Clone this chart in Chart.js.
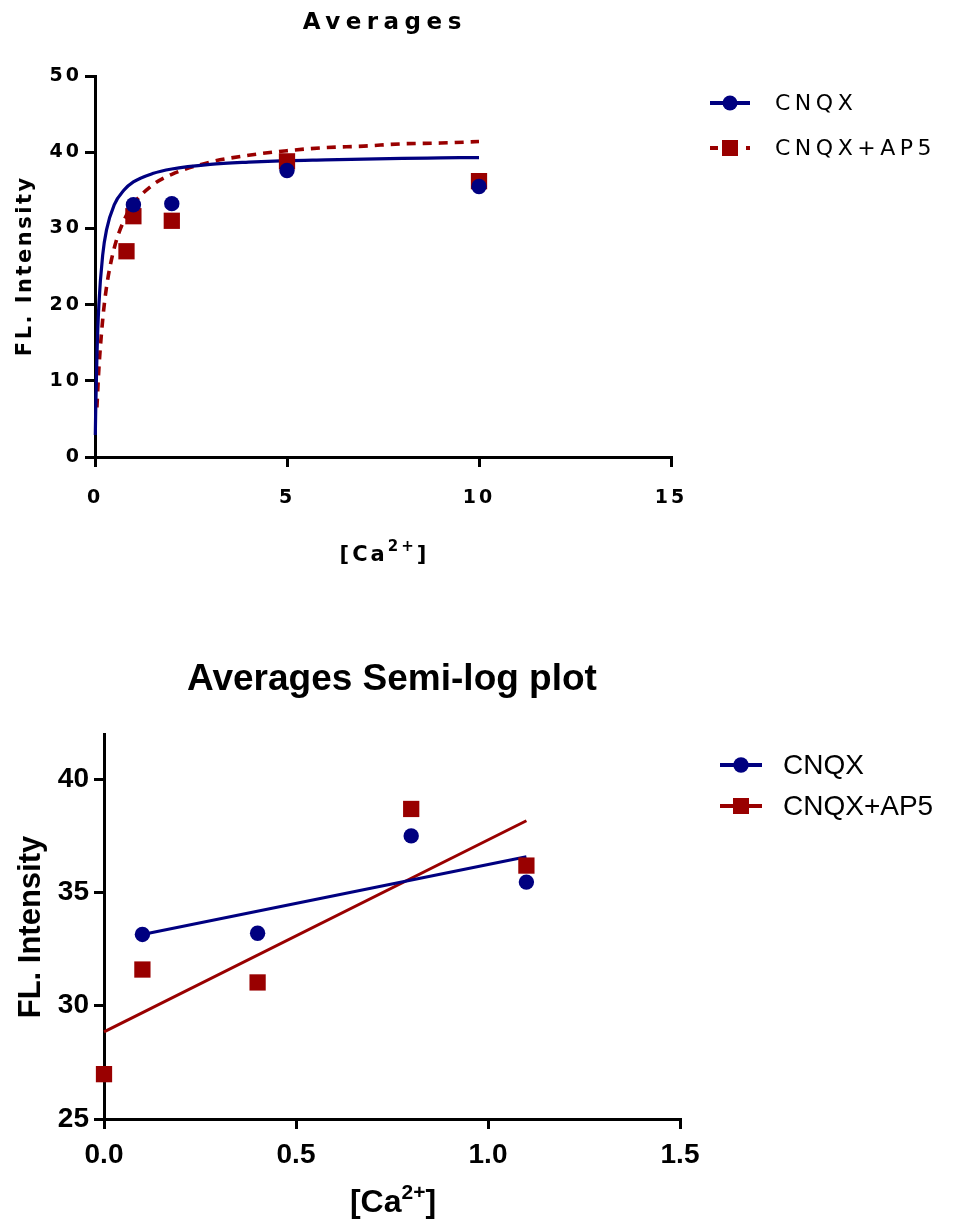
<!DOCTYPE html>
<html>
<head>
<meta charset="utf-8">
<script src="https://cdn.jsdelivr.net/npm/chart.js@4.4.1/dist/chart.umd.min.js"></script>
<style>
  html, body { margin: 0; padding: 0; background: #fff; }
  #wrap { position: relative; width: 953px; height: 1224px; }
  canvas { position: absolute; left: 0; }
  #topChart { top: 0; }
  #semiLogChart { top: 600px; }
</style>
</head>
<body>
<div id="wrap">
  <canvas id="topChart" width="953" height="600"></canvas>
  <canvas id="semiLogChart" width="953" height="624"></canvas>
</div>
<script>
// ---- data: averages ----
const seriesNames = ['CNQX', 'CNQX+AP5'];
const cnqxConc = [1, 2, 5, 10];
const cnqxAvg = [33.1, 33.25, 37.6, 35.5];
const ap5Conc = [0.82, 1, 2, 5, 10];
const ap5Avg = [27.0, 31.6, 31.0, 38.8, 36.2];

// fitted curves
const cnqxFitX = [0.008, 0.02, 0.05, 0.1, 0.2, 0.3, 0.5, 0.75, 1, 1.5, 2, 3, 4, 5, 6, 7, 8, 9, 10];
const cnqxFitY = [2.9, 6.6, 13.2, 19.9, 26.5, 29.8, 33.1, 35.0, 36.1, 37.2, 37.8, 38.4, 38.7, 38.9, 39.0, 39.1, 39.2, 39.25, 39.3];
const ap5FitX = [0.05, 0.1, 0.2, 0.3, 0.5, 0.75, 1, 1.5, 2, 3, 4, 5, 6, 7, 8, 9, 10];
const ap5FitY = [6.5, 11.5, 18.0, 22.3, 27.4, 31.0, 33.2, 35.7, 37.1, 38.7, 39.6, 40.2, 40.6, 40.8, 41.1, 41.2, 41.4];

const topXTicks = [0, 5, 10, 15];
const topYTicks = [0, 10, 20, 30, 40, 50];

// ---- data: semi-log ----
const cnqxLogConc = [0.1, 0.4, 0.8, 1.1];
const cnqxLogAvg = [33.15, 33.2, 37.5, 35.46];
const ap5LogConc = [0, 0.1, 0.4, 0.8, 1.1];
const ap5LogAvg = [26.98, 31.6, 31.03, 38.69, 36.19];
const cnqxLineX = [0.1, 1.1];
const cnqxLineY = [33.15, 36.58];
const ap5LineX = [0, 1.1];
const ap5LineY = [28.85, 38.17];

const logXTicks = [0, 0.5, 1.0, 1.5];
const logYTicks = [25, 30, 35, 40];

const NAVY = '#000080';
const DARKRED = '#990000';

const pts = (xs, ys) => xs.map((x, i) => ({ x, y: ys[i] }));

function drawText(ctx, str, x, y, font, opts = {}) {
  ctx.save();
  ctx.font = font;
  ctx.fillStyle = '#000';
  ctx.textAlign = opts.align || 'center';
  ctx.textBaseline = opts.baseline || 'alphabetic';
  const sp = opts.spacing || 0;
  ctx.letterSpacing = sp + 'px';
  const shift = (opts.align || 'center') === 'center' ? sp / 2 : 0;
  if (opts.rotate) {
    ctx.translate(x, y);
    ctx.rotate(-Math.PI / 2);
    ctx.fillText(str, shift, 0);
  } else {
    ctx.fillText(str, x + shift, y);
  }
  ctx.restore();
}

// "[Ca2+]" with a raised "2+"
function drawCaLabel(ctx, cx, baseline, family, size, supSize, rise, spacing) {
  const parts = [['[Ca', size, 0], ['2+', supSize, rise], [']', size, 0]];
  ctx.save();
  ctx.fillStyle = '#000';
  ctx.textAlign = 'left';
  ctx.textBaseline = 'alphabetic';
  ctx.letterSpacing = spacing + 'px';
  let total = -spacing;
  parts.forEach(p => { ctx.font = `bold ${p[1]}px ${family}`; total += ctx.measureText(p[0]).width; });
  let x = cx - total / 2;
  parts.forEach(p => {
    ctx.font = `bold ${p[1]}px ${family}`;
    ctx.fillText(p[0], x, baseline - p[2]);
    x += ctx.measureText(p[0]).width;
  });
  ctx.restore();
}

function legendMarker(ctx, type, x, y, r, color) {
  ctx.save();
  ctx.fillStyle = color;
  if (type === 'circle') {
    ctx.beginPath();
    ctx.arc(x, y, r, 0, Math.PI * 2);
    ctx.fill();
  } else {
    ctx.fillRect(x - r, y - r, r * 2, r * 2);
  }
  ctx.restore();
}

function legendLine(ctx, x1, x2, y, color, width) {
  ctx.save();
  ctx.strokeStyle = color;
  ctx.lineWidth = width;
  ctx.beginPath();
  ctx.moveTo(x1, y);
  ctx.lineTo(x2, y);
  ctx.stroke();
  ctx.restore();
}

const axisStyle = (tickLen) => ({
  grid: { drawOnChartArea: false, drawTicks: true, tickLength: tickLen, lineWidth: 3, color: '#000' },
  border: { display: true, color: '#000', width: 3 },
});

// ---------------- top chart ----------------
const TOP_FAMILY = '"DejaVu Sans", sans-serif';

const topDecor = {
  id: 'topDecor',
  beforeDraw(chart) {
    chart.ctx.letterSpacing = '3px';
  },
  afterDraw(chart) {
    const ctx = chart.ctx;
    drawText(ctx, 'Averages', 382, 29, `bold 23px ${TOP_FAMILY}`, { spacing: 5.5 });
    drawText(ctx, 'FL. Intensity', 31, 267, `bold 21px ${TOP_FAMILY}`, { spacing: 2.5, rotate: true });
    drawCaLabel(ctx, 383, 561, TOP_FAMILY, 21, 15, 10, 3);

    // legend
    legendLine(ctx, 710, 750, 103, NAVY, 4);
    legendMarker(ctx, 'circle', 730, 103, 7.5, NAVY);
    legendLine(ctx, 710, 718, 148, DARKRED, 4);
    legendLine(ctx, 746, 750, 148, DARKRED, 4);
    legendMarker(ctx, 'rect', 730, 148, 8, DARKRED);
    drawText(ctx, seriesNames[0], 775, 104, `22px ${TOP_FAMILY}`, { align: 'left', baseline: 'middle', spacing: 4.5 });
    drawText(ctx, seriesNames[1], 775, 149, `22px ${TOP_FAMILY}`, { align: 'left', baseline: 'middle', spacing: 4.5 });
  }
};

new Chart(document.getElementById('topChart'), {
  type: 'scatter',
  data: {
    datasets: [
      { label: seriesNames[0], data: pts(cnqxConc, cnqxAvg), pointStyle: 'circle', pointRadius: 7.7,
        backgroundColor: NAVY, borderColor: NAVY, borderWidth: 0, clip: false },
      { label: seriesNames[1], data: pts(ap5Conc, ap5Avg), pointStyle: 'rect', pointRadius: 11.5,
        backgroundColor: DARKRED, borderColor: DARKRED, borderWidth: 0, clip: false },
      { label: 'CNQX fit', data: pts(cnqxFitX, cnqxFitY), showLine: true, pointRadius: 0,
        borderColor: NAVY, borderWidth: 3.2, cubicInterpolationMode: 'monotone', clip: false },
      { label: 'AP5 fit', data: pts(ap5FitX, ap5FitY), showLine: true, pointRadius: 0,
        borderColor: DARKRED, borderWidth: 3.6, borderDash: [9, 7], cubicInterpolationMode: 'monotone', clip: false },
    ],
  },
  options: {
    responsive: false,
    animation: false,
    events: [],
    layout: { padding: { left: 0, top: 76, right: 282, bottom: 0 } },
    plugins: { legend: { display: false }, tooltip: { enabled: false }, title: { display: false } },
    scales: {
      x: {
        type: 'linear', min: 0, max: 15,
        ...axisStyle(10),
        afterBuildTicks: (s) => { s.ticks = topXTicks.map(v => ({ value: v })); },
        afterFit: (s) => { s.height = 143; },
        ticks: { color: '#000', padding: 20, maxRotation: 0, autoSkip: false,
          font: { family: TOP_FAMILY, size: 19, weight: 'bold' }, callback: (v) => String(v) },
      },
      y: {
        type: 'linear', min: 0, max: 50,
        ...axisStyle(10),
        afterBuildTicks: (s) => { s.ticks = topYTicks.map(v => ({ value: v })); },
        afterFit: (s) => { s.width = 95; },
        ticks: { color: '#000', padding: 3, autoSkip: false,
          font: { family: TOP_FAMILY, size: 19, weight: 'bold' }, callback: (v) => String(v) },
      },
    },
  },
  plugins: [topDecor],
});

// ---------------- semi-log chart ----------------
const LOG_FAMILY = '"Liberation Sans", Arial, sans-serif';
const logTickFont = { family: LOG_FAMILY, size: 28, weight: 'bold' };

const logDecor = {
  id: 'logDecor',
  afterDraw(chart) {
    const ctx = chart.ctx;
    drawText(ctx, 'Averages Semi-log plot', 392, 90, `bold 37px ${LOG_FAMILY}`);
    drawText(ctx, 'FL. Intensity', 40, 327, `bold 31px ${LOG_FAMILY}`, { rotate: true });
    drawCaLabel(ctx, 393, 612, LOG_FAMILY, 32, 21, 13, 0);

    legendLine(ctx, 720, 762, 165, NAVY, 4);
    legendMarker(ctx, 'circle', 741, 165, 7.7, NAVY);
    legendLine(ctx, 720, 762, 206, DARKRED, 4);
    legendMarker(ctx, 'rect', 741, 206, 8, DARKRED);
    drawText(ctx, seriesNames[0], 783, 166, `28px ${LOG_FAMILY}`, { align: 'left', baseline: 'middle' });
    drawText(ctx, seriesNames[1], 783, 207, `28px ${LOG_FAMILY}`, { align: 'left', baseline: 'middle' });
  }
};

new Chart(document.getElementById('semiLogChart'), {
  type: 'scatter',
  data: {
    datasets: [
      { label: seriesNames[0], data: pts(cnqxLogConc, cnqxLogAvg), pointStyle: 'circle', pointRadius: 7.7,
        backgroundColor: NAVY, borderColor: NAVY, borderWidth: 0, clip: false },
      { label: seriesNames[1], data: pts(ap5LogConc, ap5LogAvg), pointStyle: 'rect', pointRadius: 11.5,
        backgroundColor: DARKRED, borderColor: DARKRED, borderWidth: 0, clip: false },
      { label: 'CNQX line', data: pts(cnqxLineX, cnqxLineY), showLine: true, pointRadius: 0,
        borderColor: NAVY, borderWidth: 3, clip: false },
      { label: 'AP5 line', data: pts(ap5LineX, ap5LineY), showLine: true, pointRadius: 0,
        borderColor: DARKRED, borderWidth: 3, clip: false },
    ],
  },
  options: {
    responsive: false,
    animation: false,
    events: [],
    layout: { padding: { left: 0, top: 134, right: 273, bottom: 0 } },
    plugins: { legend: { display: false }, tooltip: { enabled: false }, title: { display: false } },
    scales: {
      x: {
        type: 'linear', min: 0, max: 1.5,
        ...axisStyle(10),
        afterBuildTicks: (s) => { s.ticks = logXTicks.map(v => ({ value: v })); },
        afterFit: (s) => { s.height = 105; },
        ticks: { color: '#000', padding: 9, maxRotation: 0, autoSkip: false,
          font: logTickFont, callback: (v) => Number(v).toFixed(1) },
      },
      y: {
        type: 'linear', min: 25, max: 42,
        ...axisStyle(10),
        afterBuildTicks: (s) => { s.ticks = logYTicks.map(v => ({ value: v })); },
        afterFit: (s) => { s.width = 104; },
        ticks: { color: '#000', padding: 5, autoSkip: false,
          font: logTickFont, callback: (v) => String(v) },
      },
    },
  },
  plugins: [logDecor],
});
</script>
</body>
</html>
